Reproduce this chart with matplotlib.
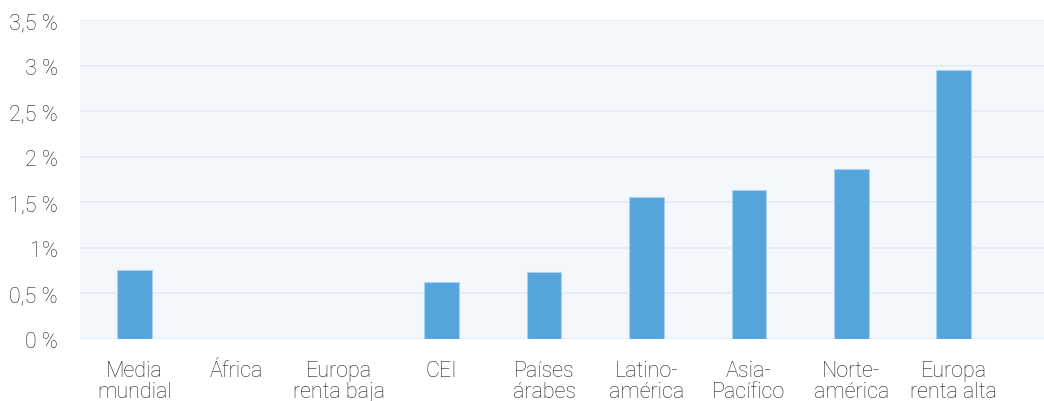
import matplotlib
matplotlib.use("Agg")
import matplotlib.pyplot as plt
from matplotlib.ticker import FixedLocator

categories = ["Media\nmundial", "África", "Europa\nrenta baja", "CEI", "Países\nárabes",
              "Latino-\namérica", "Asia-\nPacífico", "Norte-\namérica", "Europa\nrenta alta"]
values = [0.76, 0.0, 0.0, 0.62, 0.73, 1.56, 1.63, 1.87, 2.95]
yticks = [0, 0.5, 1, 1.5, 2, 2.5, 3, 3.5]
ytick_labels = ["0 %", "0,5 %", "1%", "1,5 %", "2 %", "2,5 %", "3 %", "3,5 %"]

plt.rcParams["font.family"] = ["Roboto", "DejaVu Sans"]
plt.rcParams["font.weight"] = "light"

W, H = 1044, 402
fig = plt.figure(figsize=(W / 100, H / 100), dpi=100)
ax = fig.add_axes([80 / W, (H - 340) / H, (W - 80) / W, (340 - 21) / H])
ax.set_facecolor("#F4F8FC")

x = list(range(len(categories)))
bars = [(xi, v) for xi, v in zip(x, values) if v > 0]
ax.bar([b[0] for b in bars], [b[1] for b in bars], width=0.34, color="#55A5DC",
       edgecolor="#A9D2EE", linewidth=0.8, zorder=3)

ax.set_xlim(-0.53, 8.88)
ax.set_ylim(0, 3.5)
ax.yaxis.set_major_locator(FixedLocator(yticks))
ax.set_yticklabels(ytick_labels)
ax.set_xticks(x)
ax.set_xticklabels(categories, linespacing=1.0)
ax.grid(axis="y", color="#E2ECF6", linewidth=1.2, zorder=0)
ax.set_axisbelow(True)
for s in ax.spines.values():
    s.set_visible(False)
ax.tick_params(axis="both", length=0, labelsize=15.5, colors="#222222")
ax.tick_params(axis="y", pad=16)
ax.tick_params(axis="x", pad=15)
for lab in ax.get_xticklabels() + ax.get_yticklabels():
    lab.set_fontweight("light")

fig.savefig("out.png", dpi=100)
